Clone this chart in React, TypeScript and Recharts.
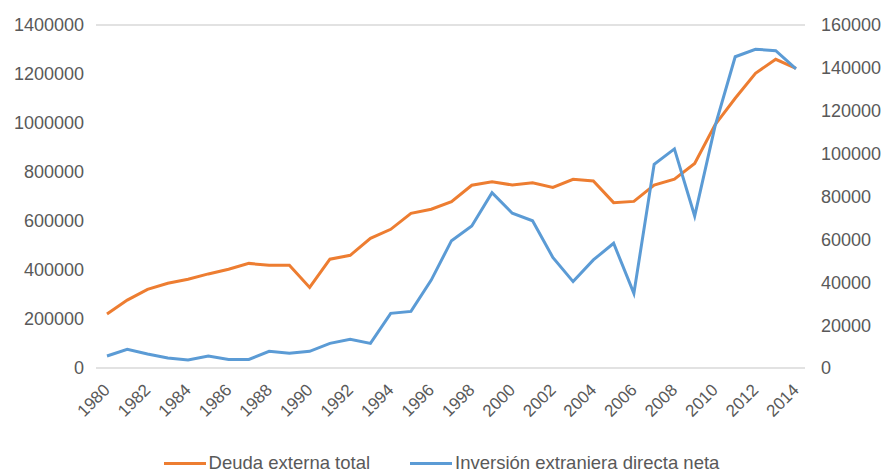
import React from 'react'
import {
  LineChart, Line, XAxis, YAxis, CartesianGrid, Legend,
} from 'recharts'

// years 1980 - 2014
const years = [
  '1980', '1981', '1982', '1983', '1984', '1985', '1986', '1987', '1988', '1989',
  '1990', '1991', '1992', '1993', '1994', '1995', '1996', '1997', '1998', '1999',
  '2000', '2001', '2002', '2003', '2004', '2005', '2006', '2007', '2008', '2009',
  '2010', '2011', '2012', '2013', '2014',
]

// left axis
const deudaExterna = [
  220000, 277000, 321000, 346000, 362000, 384000, 403000, 427000, 419000, 419000,
  329000, 444000, 460000, 529000, 566000, 631000, 648000, 679000, 746000, 760000,
  747000, 756000, 737000, 770000, 763000, 675000, 680000, 747000, 771000, 835000,
  992000, 1101000, 1203000, 1260000, 1223000,
]

// right axis
const inversionExtranjera = [
  5600, 8700, 6500, 4700, 3700, 5600, 4000, 4000, 7800, 6900,
  7800, 11500, 13400, 11500, 25500, 26400, 41000, 59400, 66200, 81800,
  72200, 68700, 51600, 40300, 50400, 58200, 34800, 95000, 102200, 70900,
  112600, 145200, 148700, 148000, 139500,
]

const leftTicks = [0, 200000, 400000, 600000, 800000, 1000000, 1200000, 1400000]
const rightTicks = [0, 20000, 40000, 60000, 80000, 100000, 120000, 140000, 160000]

const data = years.map((year, i) => ({
  year,
  deuda: deudaExterna[i],
  ied: inversionExtranjera[i],
}))

const ORANGE = '#ED7D31'
const BLUE = '#5B9BD5'
const TEXT = '#595959'
const FONT = '"Liberation Sans", Arial, sans-serif'

function YearTick(props: any) {
  const { x, y, payload } = props
  return (
    <g transform={`translate(${x + 4},${y + 15})`}>
      <text textAnchor="end" transform="rotate(-45)" fill={TEXT} fontSize={17} fontFamily={FONT}>
        {payload.value}
      </text>
    </g>
  )
}

function LegendContent() {
  const items = [
    { label: 'Deuda externa total', color: ORANGE },
    { label: 'Inversión extraniera directa neta', color: BLUE },
  ]
  return (
    <div style={{ display: 'flex', justifyContent: 'center', gap: 40, fontFamily: FONT, fontSize: 18.5, color: TEXT, paddingTop: 22 }}>
      {items.map((it) => (
        <div key={it.label} style={{ display: 'flex', alignItems: 'center' }}>
          <span style={{ display: 'inline-block', width: 42, height: 3, background: it.color, marginRight: 3 }} />
          <span>{it.label}</span>
        </div>
      ))}
    </div>
  )
}

export default function App() {
  return (
    <div style={{ width: 883, height: 474, background: '#fff' }}>
      <style>{'body{margin:0}'}</style>
      <LineChart width={883} height={474} data={data} margin={{ top: 25, right: 0, left: 0, bottom: 0 }}>
        <CartesianGrid vertical={false} stroke="#d9d9d9" strokeWidth={1.5} />
        <XAxis
          dataKey="year"
          interval={1}
          axisLine={false}
          tickLine={false}
          padding={{ left: 11, right: 9 }}
          height={62}
          tick={<YearTick />}
        />
        <YAxis
          yAxisId="left"
          domain={[0, 1400000]}
          ticks={leftTicks}
          width={96}
          axisLine={false}
          tickLine={false}
          tick={{ fill: TEXT, fontSize: 18, fontFamily: FONT }}
          tickMargin={6}
        />
        <YAxis
          yAxisId="right"
          orientation="right"
          domain={[0, 160000]}
          ticks={rightTicks}
          width={78}
          axisLine={false}
          tickLine={false}
          tick={{ fill: TEXT, fontSize: 18, fontFamily: FONT }}
          tickMargin={10}
        />
        <Legend verticalAlign="bottom" height={44} content={<LegendContent />} />
        <Line
          yAxisId="left"
          type="linear"
          dataKey="deuda"
          name="Deuda externa total"
          stroke={ORANGE}
          strokeWidth={3}
          dot={false}
          isAnimationActive={false}
        />
        <Line
          yAxisId="right"
          type="linear"
          dataKey="ied"
          name="Inversión extraniera directa neta"
          stroke={BLUE}
          strokeWidth={3}
          dot={false}
          isAnimationActive={false}
        />
      </LineChart>
    </div>
  )
}
